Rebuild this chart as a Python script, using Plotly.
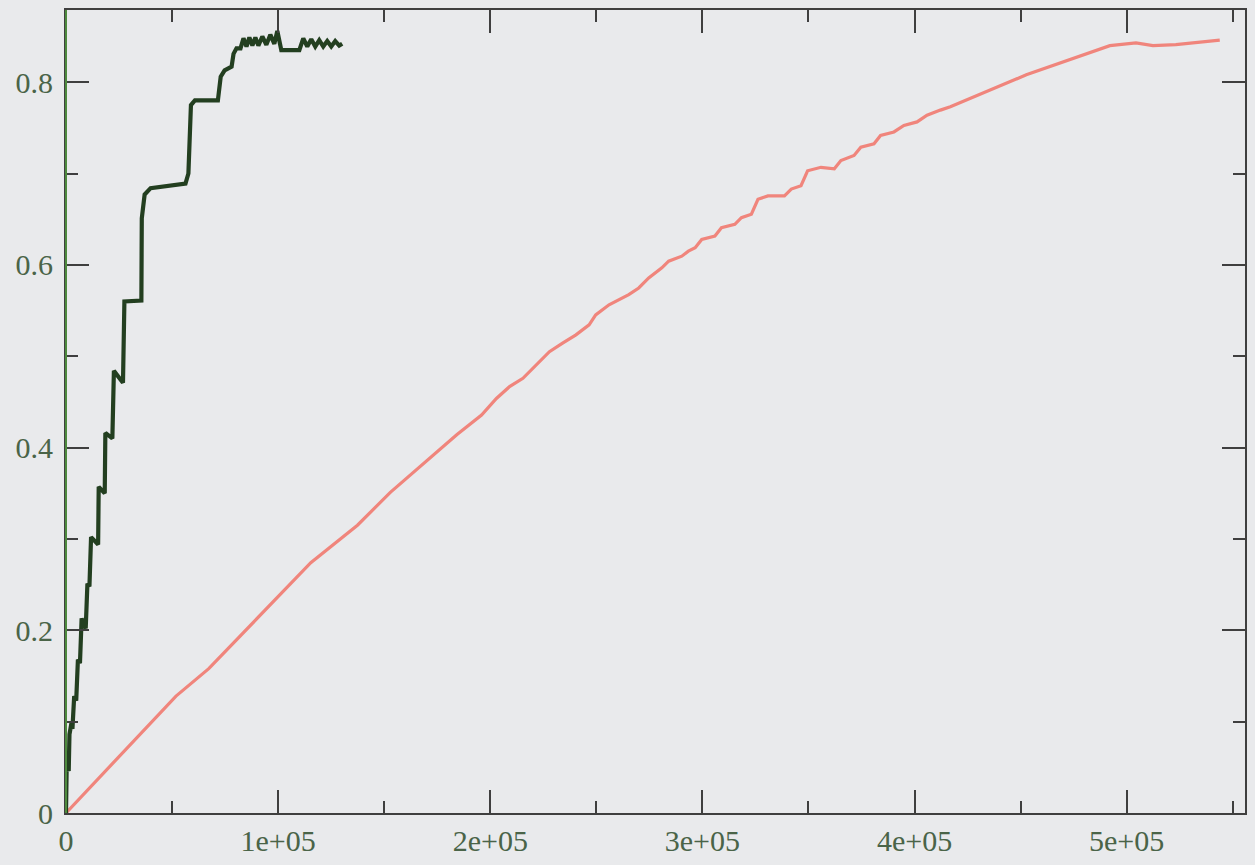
import plotly.graph_objects as go

# ---- data ----
fast_x = [0, 320, 1280, 1630, 2540, 3030, 3860, 4810, 5620, 6580, 7370, 9290,
          10100, 11050, 11820, 15140, 15420, 18260, 18550, 21850, 22580, 26860,
          27530, 35530, 35730, 37070, 39880, 56330, 57700, 58900, 60770, 71600,
          72930, 74770, 78070, 78970, 80370, 82260, 83670, 85080, 86450, 87860,
          89270, 90680, 92560, 94450, 96330, 98210, 99620, 101500, 110000,
          111860, 113740, 115620, 117510, 119390, 121270, 123150, 125040,
          126920, 128800, 130210]
fast_y = [0, 0.051, 0.046, 0.086, 0.098, 0.092, 0.128, 0.123, 0.168, 0.164,
          0.213, 0.202, 0.251, 0.248, 0.302, 0.294, 0.357, 0.350, 0.416, 0.410,
          0.484, 0.471, 0.560, 0.561, 0.651, 0.677, 0.684, 0.689, 0.700, 0.775,
          0.780, 0.780, 0.806, 0.813, 0.817, 0.831, 0.837, 0.837, 0.848, 0.839,
          0.849, 0.840, 0.849, 0.840, 0.850, 0.841, 0.852, 0.842, 0.856, 0.835,
          0.835, 0.848, 0.839, 0.847, 0.839, 0.846, 0.839, 0.845, 0.839, 0.845,
          0.840, 0.842]

slow_x = [0, 51860, 67300, 106100, 115400, 137400, 152900, 184200, 195900,
          202900, 209100, 215400, 221600, 227900, 234100, 240400, 246600,
          249700, 256000, 259100, 265300, 270000, 274700, 280900, 284100,
          290300, 293400, 296600, 299700, 305900, 309000, 315300, 318400,
          323100, 326200, 330900, 338700, 341900, 346500, 349600, 355900,
          362200, 365300, 371500, 374700, 380900, 384000, 390300, 395000,
          401200, 405900, 412200, 416900, 452700, 476200, 492100, 504400,
          512400, 523200, 543900]
slow_y = [0, 0.128, 0.158, 0.252, 0.274, 0.315, 0.351, 0.414, 0.4356,
          0.4538, 0.4667, 0.4758, 0.4904, 0.505, 0.5143, 0.5234, 0.5344,
          0.5453, 0.5563, 0.560, 0.5674, 0.5747, 0.5857, 0.5967, 0.604,
          0.6095, 0.615, 0.6187, 0.6279, 0.6316, 0.6407, 0.6444, 0.6517,
          0.6555, 0.6718, 0.6755, 0.6756, 0.683, 0.6866, 0.703, 0.7068,
          0.7051, 0.7142, 0.7197, 0.7289, 0.7326, 0.7417, 0.7455, 0.7527,
          0.7565, 0.7638, 0.7694, 0.7732, 0.808, 0.827, 0.840, 0.843,
          0.840, 0.841, 0.846]

x_tick_vals = [0, 100000, 200000, 300000, 400000, 500000]
x_tick_text = ["0", "1e+05", "2e+05", "3e+05", "4e+05", "5e+05"]
x_minor_vals = [50000, 150000, 250000, 350000, 450000, 550000]
y_tick_vals = [0, 0.2, 0.4, 0.6, 0.8]
y_tick_text = ["0", "0.2", "0.4", "0.6", "0.8"]
y_minor_vals = [0.1, 0.3, 0.5, 0.7]

x_range = [0, 555800]
y_range = [0, 0.879]

BG = "#e9eaec"
AX = "#3f3f3f"
TXT = "#4a6448"
FONT = "Liberation Serif"

fig = go.Figure()
fig.add_trace(go.Scatter(x=slow_x, y=slow_y, mode="lines",
                         line=dict(color="#f0857c", width=3.2),
                         showlegend=False, hoverinfo="skip"))
fig.add_trace(go.Scatter(x=fast_x, y=fast_y, mode="lines",
                         line=dict(color="#233f20", width=4.2),
                         showlegend=False, hoverinfo="skip"))

common = dict(showgrid=False, zeroline=False, showline=True, linecolor=AX,
              linewidth=2, mirror="ticks", ticks="inside", tickcolor=AX,
              tickwidth=2, ticklen=23,
              tickfont=dict(family=FONT, size=30, color=TXT))

fig.update_xaxes(range=x_range, tickvals=x_tick_vals, ticktext=x_tick_text,
                 minor=dict(tickvals=x_minor_vals, ticks="inside", ticklen=12,
                            tickcolor=AX, tickwidth=2, showgrid=False),
                 **common)
fig.update_yaxes(range=y_range, tickvals=y_tick_vals, ticktext=y_tick_text,
                 ticklabelstandoff=5,
                 minor=dict(tickvals=y_minor_vals, ticks="inside", ticklen=12,
                            tickcolor=AX, tickwidth=2, showgrid=False),
                 **common)

# greenish tint on the left frame line, as in the scanned original
fig.add_shape(type="line", xref="paper", yref="paper", x0=0, x1=0, y0=0, y1=1,
              line=dict(color="#4e8a3e", width=2), layer="above")

fig.update_layout(width=1255, height=865,
                  margin=dict(l=66, r=8, t=10, b=48),
                  paper_bgcolor=BG, plot_bgcolor=BG,
                  font=dict(family=FONT, size=30, color=TXT))

fig.write_html(
    "out.html",
    config={"displayModeBar": False},
    post_script=("document.body.style.margin='0';"
                 "document.body.style.overflow='hidden';"
                 "document.body.style.background='" + BG + "';"),
)
